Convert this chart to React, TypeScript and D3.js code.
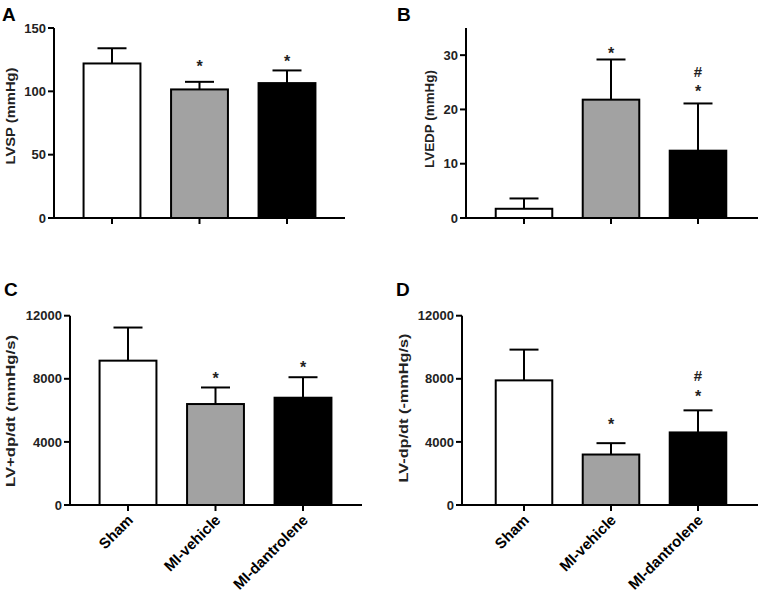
import React from "react";
import * as d3 from "d3";

const categories = ["Sham", "MI-vehicle", "MI-dantrolene"];
const fills = ["#ffffff", "#a2a2a2", "#000000"];

const lvspMean = [122, 101.5, 106.5];
const lvspErr = [12, 6, 10];
const lvspMarks: [string, string, number][] = [["MI-vehicle", "*", 122], ["MI-dantrolene", "*", 126]];
const lvspTicks = [0, 50, 100, 150];

const lvedpMean = [1.7, 21.8, 12.4];
const lvedpErr = [1.9, 7.4, 8.7];
const lvedpMarks: [string, string, number][] = [["MI-vehicle", "*", 31], ["MI-dantrolene", "#", 27], ["MI-dantrolene", "*", 24]];
const lvedpTicks = [0, 10, 20, 30];

const posMean = [9150, 6400, 6800];
const posErr = [2100, 1050, 1300];
const posMarks: [string, string, number][] = [["MI-vehicle", "*", 8240], ["MI-dantrolene", "*", 8940]];
const dpTicks = [0, 4000, 8000, 12000];

const negMean = [7900, 3200, 4600];
const negErr = [1950, 720, 1400];
const negMarks: [string, string, number][] = [["MI-vehicle", "*", 5320], ["MI-dantrolene", "#", 8240], ["MI-dantrolene", "*", 7100]];

const FONT = "'Liberation Sans', Arial, Helvetica, sans-serif";

type PanelProps = {
  letter: string;
  letterX: number;
  letterY: number;
  title: string;
  titleX: number;
  titleY: number;
  titleLen: number;
  means: number[];
  errs: number[];
  marks: [string, string, number][];
  ticks: number[];
  yMax: number;
  axisX: number;
  xEnd: number;
  y0: number;
  yTop: number;
  bandStart: number;
  bandEnd: number;
  showX: boolean;
};

function Panel(p: PanelProps) {
  const y = d3.scaleLinear().domain([0, p.yMax]).range([p.y0, p.yTop]);
  const x = d3.scaleBand<string>().domain(categories).range([p.bandStart, p.bandEnd]).paddingInner(0.35).paddingOuter(0.175);
  const bw = x.bandwidth();
  const capHalf = 14.5;
  const axisTop = y(p.yMax);
  return (
    <g fontFamily={FONT}>
      <text x={p.letterX} y={p.letterY} fontSize={19} fontWeight="bold" fill="#000">{p.letter}</text>
      <text
        transform={`translate(${p.titleX},${p.titleY}) rotate(-90)`}
        textAnchor="middle"
        fontSize={13.5}
        fontWeight="bold"
        fill="#222"
        textLength={p.titleLen}
        lengthAdjust="spacingAndGlyphs"
      >{p.title}</text>
      {categories.map((c, i) => {
        const cx = (x(c) as number) + bw / 2;
        const top = y(p.means[i]);
        const et = y(p.means[i] + p.errs[i]);
        return (
          <g key={c}>
            <line x1={cx} x2={cx} y1={top} y2={et} stroke="#000" strokeWidth={2} />
            <line x1={cx - capHalf} x2={cx + capHalf} y1={et} y2={et} stroke="#000" strokeWidth={2} />
            <rect x={x(c)} y={top} width={bw} height={p.y0 - top} fill={fills[i]} stroke="#000" strokeWidth={2} />
          </g>
        );
      })}
      {p.marks.map(([c, s, v], i) => {
        const cx = (x(c) as number) + bw / 2;
        const off = s === "*" ? 9 : 5.5;
        return (
          <text key={i} x={cx} y={y(v) + off} textAnchor="middle" fontSize={s === "*" ? 16 : 15} fontWeight="bold" fill="#222">{s}</text>
        );
      })}
      <line x1={p.axisX} x2={p.axisX} y1={p.y0 + 1} y2={axisTop} stroke="#000" strokeWidth={2} />
      <line x1={p.axisX - 6} x2={p.xEnd} y1={p.y0} y2={p.y0} stroke="#000" strokeWidth={2} />
      {p.ticks.map((t) => (
        <g key={t}>
          <line x1={p.axisX - 6} x2={p.axisX} y1={y(t)} y2={y(t)} stroke="#000" strokeWidth={2} />
          <text x={p.axisX - 8} y={y(t) + 4.6} textAnchor="end" fontSize={13} fontWeight="bold" fill="#222">{t}</text>
        </g>
      ))}
      {categories.map((c) => {
        const cx = (x(c) as number) + bw / 2;
        return <line key={c} x1={cx} x2={cx} y1={p.y0} y2={p.y0 + 6} stroke="#000" strokeWidth={2} />;
      })}
      {p.showX && categories.map((c) => {
        const cx = (x(c) as number) + bw / 2;
        return (
          <text
            key={c}
            transform={`translate(${cx + 6},${p.y0 + 16}) rotate(-45)`}
            textAnchor="end"
            fontSize={15}
            fontWeight="bold"
            fill="#000"
          >{c}</text>
        );
      })}
    </g>
  );
}

export default function App() {
  return (
    <svg width={759} height={604} style={{ display: "block", position: "absolute", left: 0, top: 0, background: "#fff" }}>
      <rect width={759} height={604} fill="#fff" />
      <Panel letter="A" letterX={2} letterY={21} title="LVSP (mmHg)" titleX={15} titleY={116} titleLen={97}
        means={lvspMean} errs={lvspErr} marks={lvspMarks} ticks={lvspTicks} yMax={150}
        axisX={54} xEnd={345} y0={218} yTop={28} bandStart={68.25} bandEnd={330.75} showX={false} />
      <Panel letter="B" letterX={397} letterY={21} title="LVEDP (mmHg)" titleX={434} titleY={119} titleLen={98}
        means={lvedpMean} errs={lvedpErr} marks={lvedpMarks} ticks={lvedpTicks} yMax={35}
        axisX={466} xEnd={758} y0={218} yTop={28} bandStart={480.5} bandEnd={741.5} showX={false} />
      <Panel letter="C" letterX={4} letterY={296} title="LV+dp/dt (mmHg/s)" titleX={15} titleY={411} titleLen={152}
        means={posMean} errs={posErr} marks={posMarks} ticks={dpTicks} yMax={12000}
        axisX={70} xEnd={362} y0={505} yTop={315.7} bandStart={84.25} bandEnd={346.75} showX={true} />
      <Panel letter="D" letterX={396} letterY={296} title="LV-dp/dt (-mmHg/s)" titleX={408} titleY={408} titleLen={149}
        means={negMean} errs={negErr} marks={negMarks} ticks={dpTicks} yMax={12000}
        axisX={462} xEnd={758} y0={505} yTop={315.7} bandStart={480.5} bandEnd={741.5} showX={true} />
    </svg>
  );
}
